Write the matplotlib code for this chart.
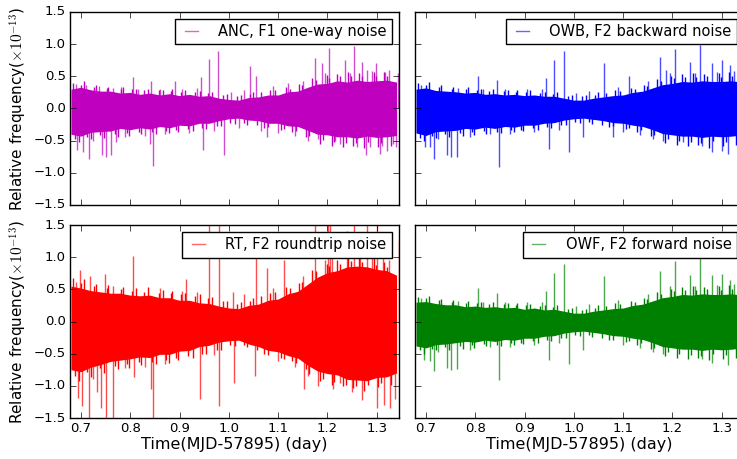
import matplotlib
matplotlib.use('Agg')
import matplotlib.pyplot as plt
from matplotlib.lines import Line2D

plt.style.use('classic')
plt.rcParams['figure.facecolor'] = 'white'
plt.rcParams['savefig.facecolor'] = 'white'
plt.rcParams['font.family'] = ['DejaVu Sans']
plt.rcParams['mathtext.fontset'] = 'cm'

# times of the envelope readings (day, MJD-57895)
t_env = [0.68, 0.70, 0.72, 0.74, 0.76, 0.78, 0.80, 0.82, 0.84, 0.86, 0.88, 0.90,
         0.92, 0.94, 0.96, 0.98, 1.00, 1.02, 1.04, 1.06, 1.08, 1.10, 1.12, 1.14,
         1.16, 1.18, 1.20, 1.22, 1.24, 1.26, 1.28, 1.30, 1.32, 1.34]

# times of the smaller excursions just outside the dense band
fine_t = [0.684, 0.697, 0.707, 0.721, 0.731, 0.746, 0.756, 0.776, 0.786, 0.797,
          0.811, 0.822, 0.836, 0.852, 0.866, 0.878, 0.885, 0.897, 0.912, 0.927,
          0.941, 0.953, 0.965, 0.985, 0.997, 1.012, 1.025, 1.037, 1.049, 1.071,
          1.084, 1.106, 1.116, 1.128, 1.143, 1.156, 1.168, 1.184, 1.198, 1.209,
          1.219, 1.231, 1.242, 1.251, 1.264, 1.275, 1.294, 1.303, 1.314, 1.329]
fine_t2 = [0.689, 0.701, 0.713, 0.727, 0.739, 0.752, 0.769, 0.781, 0.793, 0.803,
           0.817, 0.829, 0.844, 0.858, 0.872, 0.882, 0.893, 0.903, 0.917, 0.931,
           0.946, 0.957, 0.975, 0.989, 1.003, 1.017, 1.031, 1.043, 1.058, 1.066,
           1.079, 1.094, 1.111, 1.123, 1.137, 1.149, 1.163, 1.177, 1.191, 1.203,
           1.214, 1.226, 1.237, 1.247, 1.257, 1.270, 1.283, 1.298, 1.309, 1.321]

# ANC, F1 one-way noise
anc_hi = [0.30, 0.33, 0.29, 0.27, 0.27, 0.24, 0.25, 0.22, 0.24, 0.21, 0.23, 0.20,
          0.22, 0.19, 0.20, 0.16, 0.14, 0.13, 0.17, 0.18, 0.21, 0.21, 0.26, 0.27,
          0.33, 0.38, 0.39, 0.43, 0.41, 0.44, 0.42, 0.43, 0.44, 0.41]
anc_lo = [-0.40, -0.43, -0.37, -0.36, -0.35, -0.31, -0.33, -0.30, -0.32, -0.28, -0.30, -0.26,
          -0.27, -0.23, -0.23, -0.19, -0.16, -0.15, -0.18, -0.19, -0.23, -0.23, -0.27, -0.28,
          -0.34, -0.40, -0.41, -0.44, -0.44, -0.46, -0.43, -0.45, -0.44, -0.42]
anc_fine_y = [0.40, -0.52, 0.42, -0.47, 0.36, -0.46, 0.34, -0.44, 0.33, -0.42,
              0.31, -0.40, 0.31, -0.39, 0.29, -0.38, 0.30, -0.36, 0.28, -0.35,
              0.27, -0.32, 0.26, -0.27, 0.22, -0.24, 0.21, -0.25, 0.26, -0.30,
              0.29, -0.33, 0.33, -0.37, 0.38, -0.44, 0.47, -0.55, 0.52, -0.58,
              0.54, -0.60, 0.56, -0.58, 0.55, -0.62, 0.56, -0.60, 0.57, -0.58]
anc_fine_y2 = [-0.47, 0.37, -0.44, 0.34, -0.41, 0.32, -0.39, 0.30, -0.38, 0.30,
               -0.36, 0.28, -0.37, 0.28, -0.35, 0.27, -0.34, 0.26, -0.32, 0.25,
               -0.30, 0.24, -0.27, 0.21, -0.22, 0.19, -0.22, 0.22, -0.26, 0.25,
               -0.29, 0.28, -0.32, 0.31, -0.35, 0.36, -0.42, 0.44, -0.49, 0.48,
               -0.52, 0.50, -0.53, 0.50, -0.54, 0.51, -0.52, 0.50, -0.53, 0.51]
anc_spk_t = [0.693, 0.704, 0.716, 0.737, 0.743, 0.750, 0.761, 0.772, 0.781, 0.805,
             0.840, 0.843, 0.847, 0.891, 0.943, 0.948, 0.959, 0.979, 0.991, 1.043,
             1.056, 1.077, 1.174, 1.180, 1.188, 1.203, 1.215, 1.236, 1.254, 1.269,
             1.279, 1.280, 1.286, 1.298, 1.306, 1.317, 1.321, 1.333, 1.343,
             0.690, 0.710, 0.725, 0.765, 0.790, 0.815, 0.830, 0.860, 0.870, 0.905,
             0.920, 0.935, 0.970, 1.005, 1.020, 1.030, 1.065, 1.090, 1.100, 1.120,
             1.135, 1.150, 1.160, 1.195, 1.225, 1.245, 1.260, 1.290, 1.310, 1.325, 1.338]
anc_spk_y = [-0.64, -0.67, -0.78, 0.35, -0.72, -0.75, -0.72, -0.52, 0.33, 0.49,
             -0.55, 0.42, -0.90, 0.43, 0.49, -0.65, 0.77, 0.90, -0.73, 0.66,
             0.50, -0.45, 0.79, -0.48, 0.70, 0.94, -0.50, 0.75, 0.97, 0.72,
             -0.72, 0.60, -0.60, 0.70, -0.70, 0.57, -0.66, -0.55, 0.55,
             0.38, 0.36, -0.50, 0.32, -0.45, 0.30, -0.42, 0.30, -0.40, 0.30,
             -0.38, 0.32, -0.35, 0.25, -0.30, 0.28, -0.35, 0.35, -0.38, 0.40,
             -0.42, 0.42, -0.50, 0.55, -0.55, 0.55, -0.60, 0.58, -0.58, 0.60, -0.60]

# OWB, F2 backward noise
owb_hi = [0.30, 0.32, 0.28, 0.27, 0.26, 0.24, 0.25, 0.22, 0.23, 0.21, 0.22, 0.20,
          0.21, 0.19, 0.19, 0.16, 0.13, 0.13, 0.16, 0.18, 0.20, 0.21, 0.25, 0.27,
          0.32, 0.37, 0.39, 0.42, 0.41, 0.43, 0.42, 0.42, 0.43, 0.41]
owb_lo = [-0.38, -0.42, -0.36, -0.35, -0.34, -0.31, -0.32, -0.29, -0.31, -0.28, -0.29, -0.26,
          -0.26, -0.23, -0.22, -0.18, -0.16, -0.15, -0.17, -0.19, -0.22, -0.23, -0.26, -0.28,
          -0.33, -0.39, -0.41, -0.43, -0.43, -0.45, -0.43, -0.44, -0.43, -0.41]
owb_fine_y = [0.39, -0.50, 0.41, -0.46, 0.36, -0.45, 0.33, -0.43, 0.33, -0.41,
              0.30, -0.39, 0.31, -0.38, 0.28, -0.37, 0.29, -0.35, 0.28, -0.34,
              0.26, -0.31, 0.25, -0.26, 0.21, -0.23, 0.21, -0.24, 0.25, -0.29,
              0.28, -0.32, 0.32, -0.36, 0.37, -0.43, 0.46, -0.54, 0.51, -0.57,
              0.53, -0.59, 0.55, -0.57, 0.54, -0.61, 0.55, -0.59, 0.56, -0.57]
owb_fine_y2 = [-0.46, 0.36, -0.43, 0.33, -0.40, 0.31, -0.38, 0.30, -0.37, 0.29,
               -0.35, 0.27, -0.36, 0.27, -0.34, 0.26, -0.33, 0.25, -0.31, 0.24,
               -0.29, 0.23, -0.26, 0.20, -0.21, 0.19, -0.21, 0.21, -0.25, 0.24,
               -0.28, 0.27, -0.31, 0.30, -0.34, 0.35, -0.41, 0.43, -0.48, 0.47,
               -0.51, 0.49, -0.52, 0.49, -0.53, 0.50, -0.51, 0.49, -0.52, 0.50]
owb_spk_t = [0.698, 0.708, 0.717, 0.743, 0.751, 0.764, 0.806, 0.844, 0.848, 0.943,
             0.949, 0.960, 0.980, 0.991, 1.018, 1.062, 1.079, 1.112, 1.175, 1.180,
             1.186, 1.205, 1.221, 1.235, 1.255, 1.280, 1.281, 1.300, 1.301, 1.313, 1.316,
             0.690, 0.725, 0.765, 0.790, 0.815, 0.830, 0.860, 0.870, 0.905, 0.920,
             0.935, 0.970, 1.005, 1.030, 1.090, 1.100, 1.135, 1.150, 1.160, 1.195,
             1.245, 1.260, 1.290, 1.325, 1.338]
owb_spk_y = [-0.60, -0.60, -0.78, -0.72, -0.76, -0.75, 0.51, 0.45, -0.91, 0.48,
             -0.63, 0.75, 0.90, -0.68, -0.45, 0.70, -0.45, 0.50, 0.80, -0.50,
             0.60, 0.93, -0.52, 0.72, 0.99, 0.70, -0.68, 0.75, -0.66, -0.70, 0.68,
             0.36, -0.48, 0.32, -0.44, 0.30, -0.40, 0.30, -0.39, 0.30, -0.37,
             0.31, -0.34, 0.24, 0.27, 0.34, -0.37, -0.41, 0.42, -0.48, 0.55,
             0.55, -0.58, 0.56, 0.58, -0.58]

# RT, F2 roundtrip noise
rt_hi = [0.55, 0.52, 0.48, 0.46, 0.44, 0.44, 0.41, 0.40, 0.41, 0.37, 0.37, 0.33,
         0.33, 0.29, 0.28, 0.24, 0.21, 0.20, 0.25, 0.27, 0.33, 0.35, 0.43, 0.47,
         0.58, 0.69, 0.76, 0.79, 0.85, 0.86, 0.85, 0.81, 0.79, 0.72]
rt_lo = [-0.75, -0.78, -0.71, -0.67, -0.62, -0.60, -0.58, -0.55, -0.56, -0.51, -0.51, -0.46,
         -0.45, -0.39, -0.37, -0.32, -0.30, -0.29, -0.35, -0.39, -0.45, -0.47, -0.53, -0.57,
         -0.68, -0.77, -0.81, -0.83, -0.90, -0.91, -0.92, -0.87, -0.86, -0.80]
rt_fine_y = [0.68, -0.92, 0.66, -0.86, 0.58, -0.80, 0.56, -0.74, 0.54, -0.72,
             0.52, -0.68, 0.53, -0.66, 0.49, -0.64, 0.48, -0.60, 0.44, -0.56,
             0.42, -0.50, 0.38, -0.44, 0.32, -0.38, 0.30, -0.40, 0.36, -0.50,
             0.45, -0.56, 0.53, -0.62, 0.60, -0.74, 0.80, -0.92, 0.90, -0.98,
             0.95, -1.00, 0.98, -1.04, 1.00, -1.08, 0.98, -1.02, 0.92, -0.98]
rt_fine_y2 = [-0.85, 0.60, -0.78, 0.55, -0.72, 0.52, -0.69, 0.50, -0.66, 0.48,
              -0.63, 0.46, -0.63, 0.45, -0.60, 0.44, -0.57, 0.42, -0.54, 0.40,
              -0.50, 0.37, -0.44, 0.32, -0.37, 0.27, -0.36, 0.32, -0.45, 0.40,
              -0.52, 0.46, -0.58, 0.52, -0.64, 0.62, -0.82, 0.78, -0.90, 0.86,
              -0.94, 0.90, -0.98, 0.94, -1.00, 0.93, -0.98, 0.88, -0.96, 0.84]
rt_spk_t = [0.698, 0.718, 0.749, 0.806, 0.914, 0.960, 0.980, 1.009, 1.056, 1.077,
            1.111, 1.175, 1.201, 1.206, 1.210, 1.239, 1.254, 1.265, 1.280, 1.300,
            1.313, 1.344,
            0.694, 0.703, 0.716, 0.733, 0.741, 0.751, 0.765, 0.808, 0.843, 0.847,
            0.941, 0.981, 1.011, 1.054, 1.152, 1.180, 1.211, 1.250, 1.269, 1.301,
            1.314, 1.327, 1.337,
            0.690, 0.725, 0.765, 0.790, 0.830, 0.860, 0.870, 0.905, 0.935, 0.970,
            1.030, 1.090, 1.100, 1.135, 1.150, 1.160, 1.195, 1.225, 1.290, 1.325]
rt_spk_y = [0.80, 0.70, 0.74, 1.02, 0.66, 1.80, 1.80, 0.46, 0.98, 0.83,
            0.96, 1.80, 1.80, 1.80, 1.10, 1.41, 1.80, 1.30, 1.80, 1.80,
            1.20, 1.25,
            -1.19, -1.32, -1.80, -1.10, -1.35, -1.80, -1.80, -0.87, -1.05, -1.80,
            -1.20, -1.32, -0.95, -0.85, -1.05, -1.00, -1.05, -1.10, -1.22, -1.35,
            -1.30, -1.35, -1.20,
            0.62, -0.90, 0.55, -0.72, -0.70, 0.52, -0.66, 0.48, 0.46, -0.52,
            0.42, 0.52, -0.62, -0.70, 0.70, -0.85, 0.95, -0.95, 1.00, 0.95]

# OWF, F2 forward noise
owf_hi = [0.30, 0.31, 0.28, 0.26, 0.26, 0.23, 0.24, 0.22, 0.23, 0.21, 0.22, 0.19,
          0.21, 0.18, 0.19, 0.16, 0.13, 0.13, 0.16, 0.18, 0.20, 0.21, 0.25, 0.27,
          0.32, 0.37, 0.39, 0.42, 0.41, 0.43, 0.42, 0.42, 0.43, 0.41]
owf_lo = [-0.38, -0.41, -0.36, -0.35, -0.33, -0.31, -0.32, -0.29, -0.31, -0.28, -0.29, -0.26,
          -0.26, -0.23, -0.22, -0.18, -0.16, -0.15, -0.17, -0.19, -0.22, -0.23, -0.26, -0.28,
          -0.33, -0.39, -0.41, -0.43, -0.43, -0.45, -0.43, -0.44, -0.43, -0.41]
owf_fine_y = [0.38, -0.50, 0.40, -0.45, 0.35, -0.45, 0.33, -0.42, 0.32, -0.41,
              0.30, -0.38, 0.30, -0.38, 0.28, -0.36, 0.29, -0.35, 0.27, -0.34,
              0.26, -0.31, 0.25, -0.26, 0.21, -0.23, 0.20, -0.24, 0.25, -0.29,
              0.28, -0.32, 0.32, -0.36, 0.37, -0.43, 0.46, -0.53, 0.51, -0.57,
              0.53, -0.58, 0.55, -0.57, 0.54, -0.60, 0.55, -0.59, 0.56, -0.57]
owf_fine_y2 = [-0.45, 0.36, -0.43, 0.33, -0.40, 0.31, -0.38, 0.29, -0.37, 0.29,
               -0.35, 0.27, -0.36, 0.27, -0.34, 0.26, -0.33, 0.25, -0.31, 0.24,
               -0.29, 0.23, -0.26, 0.20, -0.21, 0.18, -0.21, 0.21, -0.25, 0.24,
               -0.28, 0.27, -0.31, 0.30, -0.34, 0.35, -0.41, 0.43, -0.48, 0.47,
               -0.51, 0.49, -0.52, 0.49, -0.53, 0.50, -0.51, 0.49, -0.52, 0.50]
owf_spk_t = [0.697, 0.708, 0.717, 0.743, 0.751, 0.764, 0.806, 0.844, 0.848, 0.943,
             0.949, 0.960, 0.980, 0.991, 1.018, 1.062, 1.175, 1.180, 1.205, 1.235,
             1.255, 1.280, 1.281, 1.300, 1.313, 1.316,
             0.690, 0.725, 0.765, 0.790, 0.815, 0.830, 0.860, 0.870, 0.905, 0.920,
             0.935, 0.970, 1.005, 1.030, 1.090, 1.100, 1.135, 1.150, 1.160, 1.195,
             1.245, 1.260, 1.290, 1.325, 1.338]
owf_spk_y = [-0.60, -0.62, -0.77, -0.72, -0.75, -0.74, 0.52, 0.45, -0.91, 0.48,
             -0.60, 0.75, 0.89, -0.66, -0.45, 0.70, 0.78, -0.50, 0.94, 0.72,
             0.98, 0.72, -0.65, 0.74, -0.68, 0.65,
             0.36, -0.48, 0.32, -0.44, 0.30, -0.40, 0.30, -0.39, 0.30, -0.37,
             0.31, -0.34, 0.24, 0.27, 0.34, -0.37, -0.41, 0.42, -0.48, 0.55,
             0.55, -0.58, 0.56, 0.58, -0.58]

panels = [
    (anc_hi, anc_lo, anc_fine_y, anc_fine_y2, anc_spk_t, anc_spk_y, 'm', 'ANC, F1 one-way noise'),
    (owb_hi, owb_lo, owb_fine_y, owb_fine_y2, owb_spk_t, owb_spk_y, 'b', 'OWB, F2 backward noise'),
    (rt_hi, rt_lo, rt_fine_y, rt_fine_y2, rt_spk_t, rt_spk_y, 'r', 'RT, F2 roundtrip noise'),
    (owf_hi, owf_lo, owf_fine_y, owf_fine_y2, owf_spk_t, owf_spk_y, 'g', 'OWF, F2 forward noise'),
]

fig = plt.figure(figsize=(7.37, 4.59), dpi=100)
# the right column runs past the right edge of the picture, as in the original
rects = [[0.095, 0.5534, 0.4464, 0.4205],
         [0.5631, 0.5534, 0.4464, 0.4205],
         [0.095, 0.0893, 0.4464, 0.4205],
         [0.5631, 0.0893, 0.4464, 0.4205]]

ylabel = r'Relative frequency($\times10^{-13}$)'
xlabel = 'Time(MJD-57895) (day)'

for i, (hi, lo, fy, fy2, st, sy, c, lab) in enumerate(panels):
    ax = fig.add_axes(rects[i])
    ax.fill_between(t_env, lo, hi, color=c, lw=0)
    ax.vlines(fine_t, 0, fy, color=c, lw=1.0)
    ax.vlines(fine_t2, 0, fy2, color=c, lw=1.0)
    ax.vlines(st, 0, sy, color=c, lw=1.0, alpha=0.7)
    ax.set_xlim(0.678, 1.345)
    ax.set_ylim(-1.5, 1.5)
    ax.set_xticks([0.7, 0.8, 0.9, 1.0, 1.1, 1.2, 1.3])
    ax.set_yticks([-1.5, -1.0, -0.5, 0.0, 0.5, 1.0, 1.5])
    ax.tick_params(labelsize=9.5, direction='in', top=True, right=True, pad=3)
    if i < 2:
        ax.set_xticklabels([])
    else:
        ax.set_xlabel(xlabel, fontsize=11.5, labelpad=1)
    if i % 2 == 1:
        ax.set_yticklabels([])
    else:
        ax.set_ylabel(ylabel, fontsize=11, labelpad=3)
    h = Line2D([], [], color=c, lw=1.0, alpha=0.6)
    ax.legend([h], [lab], loc='upper right', fontsize=10.5, handlelength=1.5,
              handletextpad=1.1, borderpad=0.35, fancybox=False, frameon=True)

fig.savefig('out.png', dpi=100)
